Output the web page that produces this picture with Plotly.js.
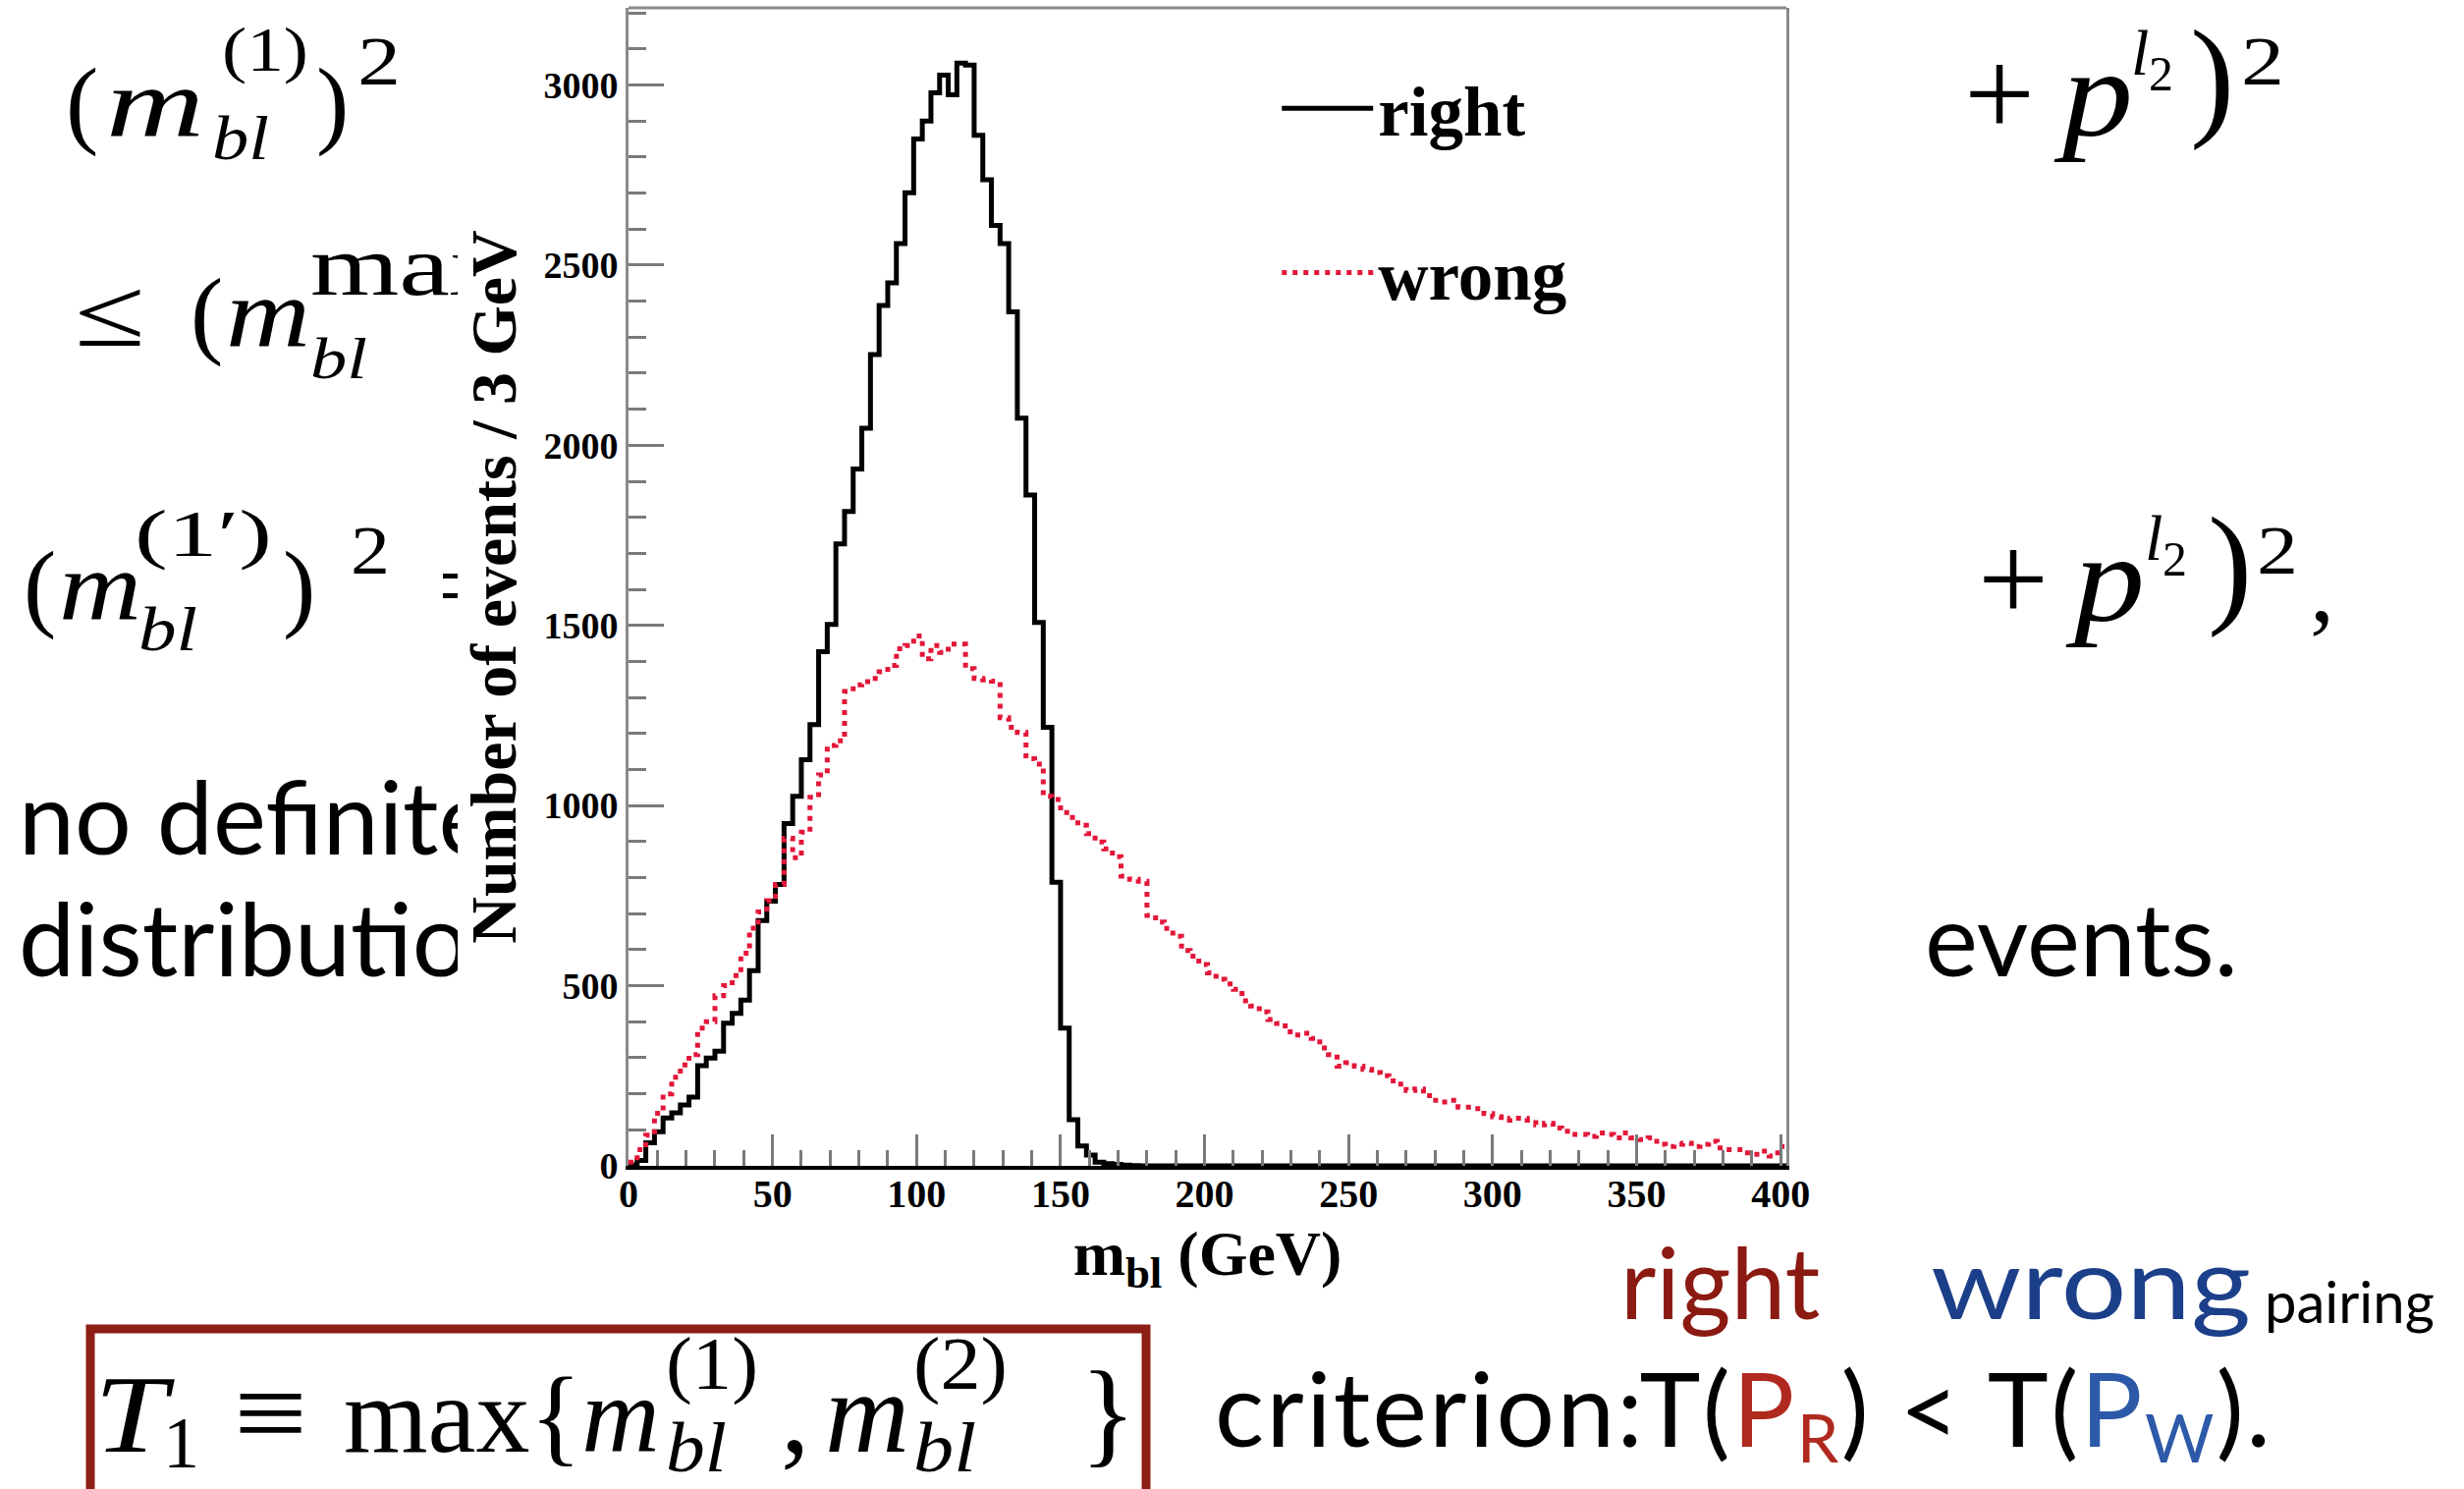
<!DOCTYPE html>
<html><head><meta charset="utf-8">
<script src="https://cdn.plot.ly/plotly-3.0.1.min.js"></script>
<style>
html,body{margin:0;padding:0;background:#fff;}
#page{position:relative;width:2509px;height:1516px;overflow:hidden;background:#fff;}
svg.layer{position:absolute;left:0;top:0;}
#chart{position:absolute;left:466px;top:0;width:1474px;height:1340px;z-index:2;}
.m{font-family:'Liberation Serif','Times New Roman',serif;}
.s{font-family:'Lato','Open Sans',sans-serif;}
</style></head>
<body><div id="page">
<svg class="layer" width="2509" height="1516" style="z-index:1">
  <!-- line 1 -->
  <text class="m" font-size="100" x="67" y="138">(</text>
  <text class="m" font-size="100" font-style="italic" x="108" y="138" textLength="100" lengthAdjust="spacingAndGlyphs">m</text>
  <text class="m" font-size="64" x="226" y="72" textLength="88" lengthAdjust="spacingAndGlyphs">(1)</text>
  <text class="m" font-size="64" font-style="italic" x="216" y="162" textLength="58" lengthAdjust="spacingAndGlyphs">bl</text>
  <text class="m" font-size="100" x="322" y="138">)</text>
  <text class="m" font-size="70" x="364" y="86" textLength="44" lengthAdjust="spacingAndGlyphs">2</text>
  <!-- line 2 -->
  <text class="m" font-size="100" x="76" y="352" textLength="72" lengthAdjust="spacingAndGlyphs">≤</text>
  <text class="m" font-size="100" x="194" y="352">(</text>
  <text class="m" font-size="100" font-style="italic" x="230" y="352" textLength="86" lengthAdjust="spacingAndGlyphs">m</text>
  <text class="m" font-size="86" x="316" y="300" textLength="200" lengthAdjust="spacingAndGlyphs">max</text>
  <text class="m" font-size="60" font-style="italic" x="316" y="385" textLength="58" lengthAdjust="spacingAndGlyphs">bl</text>
  <!-- line 3 -->
  <text class="m" font-size="100" x="24" y="630">(</text>
  <text class="m" font-size="100" font-style="italic" x="60" y="630" textLength="84" lengthAdjust="spacingAndGlyphs">m</text>
  <text class="m" font-size="68" x="137" y="566" textLength="140" lengthAdjust="spacingAndGlyphs">(1′)</text>
  <text class="m" font-size="64" font-style="italic" x="141" y="662" textLength="60" lengthAdjust="spacingAndGlyphs">bl</text>
  <text class="m" font-size="100" x="288" y="630">)</text>
  <text class="m" font-size="70" x="357" y="584" textLength="40" lengthAdjust="spacingAndGlyphs">2</text>
  <text class="m" font-size="100" x="446" y="630">=</text>
  <!-- sans lines -->
  <text class="s" font-size="102" x="19" y="870">no definite</text>
  <text class="s" font-size="102" x="19" y="994">distribution</text>
</svg>
<div id="chart"></div>
<svg class="layer" width="2509" height="1516" style="z-index:3;pointer-events:none">
  <!-- right math line 1 -->
  <text class="m" font-size="126" x="2000" y="138" textLength="72" lengthAdjust="spacingAndGlyphs">+</text>
  <text class="m" font-size="126" font-style="italic" x="2100" y="138" textLength="72" lengthAdjust="spacingAndGlyphs">p</text>
  <text class="m" font-size="66" font-style="italic" x="2170" y="76">l</text>
  <text class="m" font-size="50" x="2188" y="92">2</text>
  <text class="m" font-size="136" x="2230" y="124">)</text>
  <text class="m" font-size="70" x="2282" y="86" textLength="44" lengthAdjust="spacingAndGlyphs">2</text>
  <!-- right math line 3 -->
  <text class="m" font-size="126" x="2014" y="632" textLength="72" lengthAdjust="spacingAndGlyphs">+</text>
  <text class="m" font-size="126" font-style="italic" x="2112" y="632" textLength="72" lengthAdjust="spacingAndGlyphs">p</text>
  <text class="m" font-size="66" font-style="italic" x="2184" y="570">l</text>
  <text class="m" font-size="50" x="2202" y="586">2</text>
  <text class="m" font-size="136" x="2248" y="620">)</text>
  <text class="m" font-size="70" x="2298" y="584" textLength="42" lengthAdjust="spacingAndGlyphs">2</text>
  <text class="m" font-size="100" x="2352" y="632">,</text>
  <!-- events -->
  <text class="s" font-size="102" x="1960" y="994">events.</text>
  <!-- right / wrong pairing -->
  <text class="s" font-size="100" x="1650" y="1343" fill="#8b1a12">right</text>
  <text class="s" font-size="100" x="1966" y="1343" fill="#1c3f8a" textLength="326" lengthAdjust="spacingAndGlyphs">wrong</text>
  <text class="s" font-size="58" x="2306" y="1347">pairing</text>
  <!-- boxed formula -->
  <rect x="92" y="1353" width="1075" height="200" fill="#fff" stroke="#8e1e14" stroke-width="9"/>
  <text class="m" font-size="112" font-style="italic" x="96" y="1478" textLength="74" lengthAdjust="spacingAndGlyphs">T</text>
  <text class="m" font-size="74" x="166" y="1494">1</text>
  <text class="m" font-size="118" x="238" y="1478" textLength="75" lengthAdjust="spacingAndGlyphs">≡</text>
  <text class="m" font-size="110" x="350" y="1478">max{<tspan font-style="italic">m</tspan></text>
  <text class="m" font-size="76" x="678" y="1414" textLength="94" lengthAdjust="spacingAndGlyphs">(1)</text>
  <text class="m" font-size="72" font-style="italic" x="678" y="1498" textLength="62" lengthAdjust="spacingAndGlyphs">bl</text>
  <text class="m" font-size="118" x="795" y="1478">,</text>
  <text class="m" font-size="118" font-style="italic" x="840" y="1478" textLength="86" lengthAdjust="spacingAndGlyphs">m</text>
  <text class="m" font-size="76" x="930" y="1414" textLength="96" lengthAdjust="spacingAndGlyphs">(2)</text>
  <text class="m" font-size="72" font-style="italic" x="930" y="1498" textLength="64" lengthAdjust="spacingAndGlyphs">bl</text>
  <text class="m" font-size="118" x="1100" y="1478">}</text>
  <!-- criterion -->
  <text class="s" font-size="105" x="1237" y="1473" textLength="1075" lengthAdjust="spacing">criterion:T(<tspan fill="#b0291f">P</tspan><tspan fill="#b0291f" font-size="68" dy="16">R</tspan><tspan dy="-16">) &lt; T(</tspan><tspan fill="#2d5aa8">P</tspan><tspan fill="#2d5aa8" font-size="68" dy="16">W</tspan><tspan dy="-16">).</tspan></text>
</svg>
</div>
<script>
// ---- data ----
const binWidth = 3;          // GeV per bin
const xMin = 0;
const xMax = 402;            // 134 bins of 3 GeV
const yMax = 3214;

const rightCounts = [
  3, 15, 64, 95, 133, 147, 169, 191, 278, 299,
  318, 396, 423, 460, 542, 681, 735, 781, 950, 1026,
  1127, 1225, 1427, 1503, 1726, 1816, 1934, 2047, 2252, 2388,
  2451, 2560, 2701, 2850, 2900, 2978, 3027, 2973, 3061, 3055,
  2860, 2737, 2610, 2560, 2370, 2075, 1862, 1508, 1217, 787,
  382, 128, 55, 30, 10, 6, 4, 2, 1, 0,
  0, 0, 0, 0, 0, 0, 0, 0, 0, 0,
  0, 0, 0, 0, 0, 0, 0, 0, 0, 0,
  0, 0, 0, 0, 0, 0, 0, 0, 0, 0,
  0, 0, 0, 0, 0, 0, 0, 0, 0, 0,
  0, 0, 0, 0, 0, 0, 0, 0, 0, 0,
  0, 0, 0, 0, 0, 0, 0, 0, 0, 0,
  0, 0, 0, 0, 0, 0, 0, 0, 0, 0,
  0, 0, 0, 0
];

const wrongCounts = [
  10, 45, 85, 146, 200, 246, 280, 309, 382, 400,
  472, 500, 528, 590, 660, 705, 736, 781, 909, 855,
  926, 1023, 1085, 1167, 1180, 1317, 1335, 1344, 1353, 1371,
  1389, 1435, 1444, 1471, 1407, 1444, 1425, 1448, 1448, 1380,
  1353, 1349, 1345, 1244, 1217, 1203, 1130, 1115, 1026, 1017,
  981, 967, 945, 922, 899, 880, 858, 804, 795, 790,
  695, 677, 659, 637, 598, 582, 559, 536, 518, 505,
  490, 458, 444, 427, 406, 395, 372, 363, 368, 354,
  327, 309, 277, 286, 277, 268, 259, 250, 236, 227,
  209, 213, 195, 182, 177, 182, 163, 163, 159, 145,
  136, 127, 132, 132, 127, 114, 118, 105, 96, 87,
  87, 82, 91, 87, 78, 91, 78, 73, 78, 60,
  54, 60, 63, 54, 60, 68, 50, 45, 45, 36,
  32, 41, 27, 54
];

const xTickVals = [0, 50, 100, 150, 200, 250, 300, 350, 400];
const yTickVals = [0, 500, 1000, 1500, 2000, 2500, 3000];
const seriesNames = ['right', 'wrong'];

// build step outlines from bin counts (edges: left edge of each bin + final right edge)
function stepXY(counts) {
  const x = counts.map((_, i) => xMin + i * binWidth);
  x.push(xMin + counts.length * binWidth);
  const y = counts.concat([counts[counts.length - 1]]);
  return {x, y};
}

const r = stepXY(rightCounts);
const w = stepXY(wrongCounts);

const serif = 'Liberation Serif, Times New Roman, serif';
const traces = [
  {type: 'scatter', mode: 'lines', name: seriesNames[0], x: r.x, y: r.y,
   line: {shape: 'hv', color: '#000000', width: 5}, legendgroup: 'g1', hoverinfo: 'skip'},
  {type: 'scatter', mode: 'lines', name: seriesNames[1], x: w.x, y: w.y,
   line: {shape: 'hv', color: '#e3173a', width: 5, dash: '5px,6px'}, legendgroup: 'g2', hoverinfo: 'skip'}
];

const layout = {
  width: 1474, height: 1340,
  margin: {l: 174, r: 121, t: 8, b: 153},
  paper_bgcolor: '#ffffff', plot_bgcolor: '#ffffff',
  font: {family: serif, color: '#000000'},
  showlegend: true,
  legend: {
    x: 0.5600, y: 0.958, xanchor: 'left', yanchor: 'top',
    bgcolor: 'rgba(0,0,0,0)', borderwidth: 0,
    font: {family: serif, size: 71, weight: 700, color: '#000'},
    itemwidth: 93, tracegroupgap: 72
  },
  xaxis: {
    range: [xMin, xMax], tickmode: 'array', tickvals: xTickVals,
    ticktext: xTickVals.map(String),
    ticks: 'inside', ticklen: 32, tickwidth: 3, tickcolor: '#7a7a7a',
    minor: {dtick: 10, ticks: 'inside', ticklen: 16, tickwidth: 3, tickcolor: '#7a7a7a', showgrid: false},
    showline: true, linecolor: '#000000', linewidth: 4, mirror: false,
    showgrid: false, zeroline: false,
    ticklabeloverflow: 'allow', ticklabelstandoff: -10,
    tickfont: {family: serif, size: 40, weight: 700, color: '#000'},
    title: {text: 'm<sub>bl</sub> (GeV)', font: {family: serif, size: 64, weight: 700, color: '#000'}, standoff: 17}
  },
  yaxis: {
    range: [0, yMax], tickmode: 'array', tickvals: yTickVals,
    ticktext: yTickVals.map(String),
    ticks: 'inside', ticklen: 36, tickwidth: 3, tickcolor: '#7a7a7a',
    minor: {dtick: 100, ticks: 'inside', ticklen: 18, tickwidth: 3, tickcolor: '#7a7a7a', showgrid: false},
    showline: true, linecolor: '#8a8a8a', linewidth: 3, mirror: true,
    showgrid: false, zeroline: false, ticklabeloverflow: 'allow',
    tickfont: {family: serif, size: 38, weight: 700, color: '#000'},
    title: {text: 'Number of events / 3 GeV', font: {family: serif, size: 66, weight: 700, color: '#000'}, standoff: 18}
  },
  shapes: [
    {type: 'line', xref: 'paper', yref: 'paper', x0: 0, x1: 1, y0: 1, y1: 1,
     line: {color: '#8a8a8a', width: 3}}
  ]
};

Plotly.newPlot('chart', traces, layout, {displayModeBar: false, staticPlot: true});
</script>
</body></html>
